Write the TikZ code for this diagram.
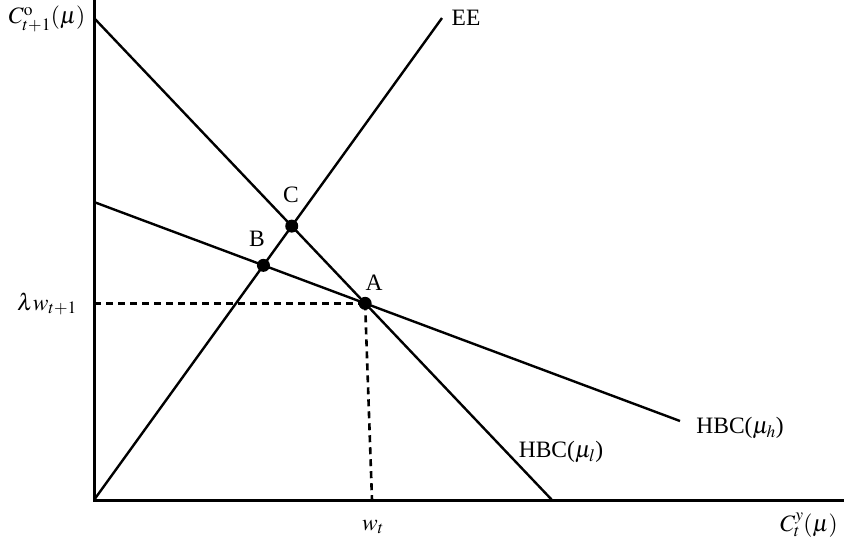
\documentclass[tikz,border=0pt]{standalone}
\usepackage{mathptmx}
\usepackage{fontspec}
\setmainfont{Liberation Serif}
\begin{document}
\begin{tikzpicture}[x=1pt,y=-1pt,
  curve/.style={line width=2.4pt},
  axis/.style={line width=3pt},
  guide/.style={line width=2.6pt, dash pattern=on 7pt off 5pt},
  dot/.style={circle, fill=black, inner sep=0pt, minimum size=13pt},
  lbl/.style={font=\fontsize{23.5}{28}\selectfont, inner sep=0pt}]
\useasboundingbox (0,0) rectangle (844,547);
% axes
\coordinate (O) at (94,500);
\coordinate (ytop) at (94,0);
\coordinate (xend) at (844,500);
\draw[axis] (ytop) -- (O) -- (xend);
% lines
\coordinate (l1) at (94,18);
\coordinate (l2) at (552,500);
\coordinate (h1) at (94,202);
\coordinate (h2) at (680,421);
\coordinate (e2) at (442,18);
\draw[curve] (l1) -- (l2);
\draw[curve] (h1) -- (h2);
\draw[curve] (O) -- (e2);
% intersections
\coordinate (A) at (intersection of l1--l2 and h1--h2);
\coordinate (B) at (intersection of O--e2 and h1--h2);
\coordinate (C) at (intersection of O--e2 and l1--l2);
\coordinate (lw) at (O |- A);
\coordinate (wt) at (372,500);
\draw[guide] (lw) -- (A);
\draw[guide] (A) -- (wt);
\node[dot] (dA) at (A) {};
\node[dot] (dB) at (B) {};
\node[dot] (dC) at (C) {};
% labels
\node[lbl] (tA) at (374,283) {A};
\node[lbl] (tB) at (257,239) {B};
\node[lbl] (tC) at (291,195) {C};
\node[lbl] (tEE) at (466,18) {EE};
\node[lbl] (th) at (740,428) {HBC($\mu_h$)};
\node[lbl] (tl) at (561,452) {HBC($\mu_l$)};
\node[lbl] (tlw) at (47,304) {$\lambda w_{t+1}$};
\node[lbl] (twt) at (373,527) {$w_t$};
\node[lbl] (tx) at (809,525) {$C^{y}_{t}(\mu)$};
\node[lbl] (ty) at (47,19) {$C^{\mathrm{o}}_{t+1}(\mu)$};
\end{tikzpicture}
\end{document}
